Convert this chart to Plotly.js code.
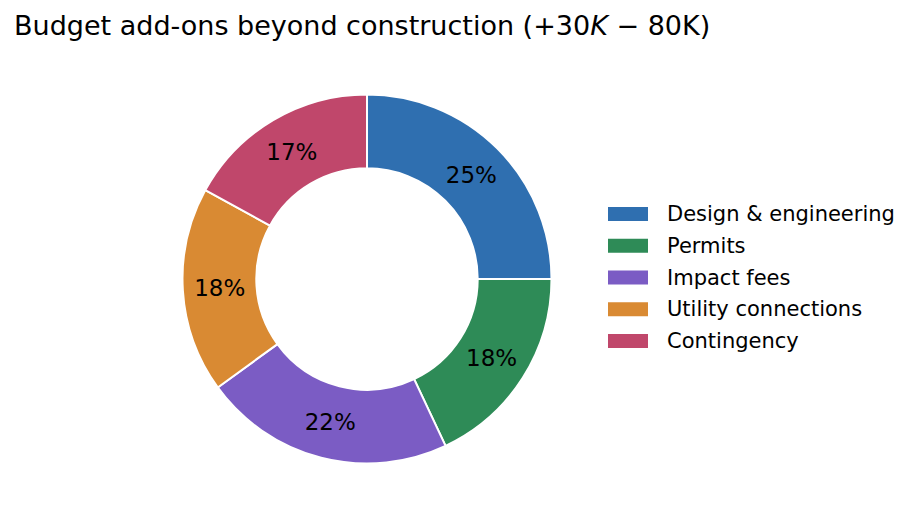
<!DOCTYPE html>
<html>
<head>
<meta charset="utf-8">
<script src="https://cdn.plot.ly/plotly-3.0.1.min.js"></script>
<style>html,body{margin:0;padding:0;background:#fff;}#chart{width:915px;height:525px;}</style>
</head>
<body>
<div id="chart"></div>
<script>
const categories = ["Design & engineering", "Permits", "Impact fees", "Utility connections", "Contingency"];
const shares = [25, 18, 22, 18, 17];
const colors = ["#2f6fb0", "#2e8b57", "#7b5cc4", "#d98a33", "#c0476b"];
const titleText = "Budget add-ons beyond construction (+30<i>K</i> − 80K)";

const W = 915, H = 525;
const cx = 367, cy = 279, R = 184.5;

const trace = {
  type: 'pie',
  labels: categories,
  values: shares,
  sort: false,
  direction: 'clockwise',
  rotation: 0,
  hole: 0.6,
  marker: {colors: colors, line: {color: '#ffffff', width: 2}},
  texttemplate: '%{percent:.0%}',
  textposition: 'inside',
  insidetextorientation: 'horizontal',
  insidetextfont: {family: 'DejaVu Sans', size: 23, color: '#000000'},
  domain: {x: [(cx - R) / W, (cx + R) / W], y: [(H - cy - R) / H, (H - cy + R) / H]},
  hoverinfo: 'label+percent',
  showlegend: false
};

// Legend built from the same category/colour arrays
const legX0 = 608, legX1 = 648, legTextX = 665, legY0 = 214, legDy = 31.75, legH = 14;
const shapes = categories.map((c, i) => ({
  type: 'rect', xref: 'paper', yref: 'paper',
  x0: legX0 / W, x1: legX1 / W,
  y0: 1 - (legY0 + i * legDy + legH / 2) / H, y1: 1 - (legY0 + i * legDy - legH / 2) / H,
  fillcolor: colors[i], line: {width: 0}
}));
const annotations = categories.map((c, i) => ({
  xref: 'paper', yref: 'paper', x: legTextX / W, y: 1 - (legY0 + i * legDy) / H,
  xanchor: 'left', yanchor: 'middle', showarrow: false, text: c,
  font: {family: 'DejaVu Sans', size: 21, color: '#000000'}
}));

const layout = {
  width: W, height: H,
  margin: {l: 0, r: 0, t: 0, b: 0},
  paper_bgcolor: '#ffffff',
  font: {family: 'DejaVu Sans', color: '#000000'},
  title: {text: titleText, font: {family: 'DejaVu Sans', size: 27, color: '#000000'},
          xref: 'container', yref: 'container', x: 14 / W, xanchor: 'left', y: 1 - 26 / H, yanchor: 'middle'},
  showlegend: false,
  shapes: shapes,
  annotations: annotations
};

Plotly.newPlot('chart', [trace], layout, {displayModeBar: false});
</script>
</body>
</html>
